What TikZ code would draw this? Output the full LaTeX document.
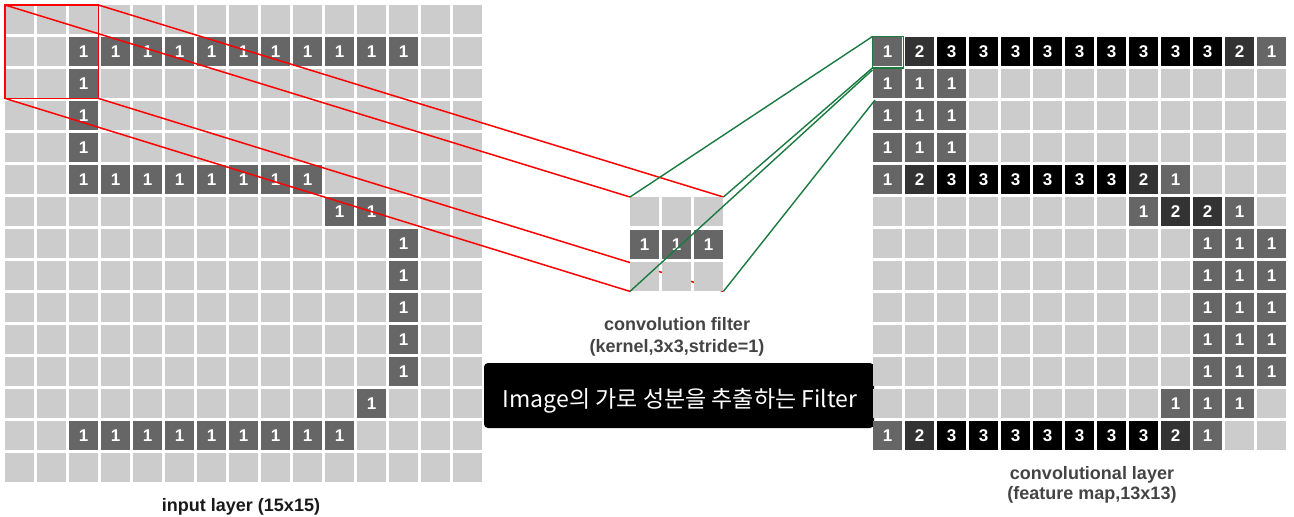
\documentclass[tikz,border=0pt]{standalone}
\usepackage{fontspec}
\setmainfont{Liberation Sans}
\newfontfamily\krfont{Noto Sans CJK KR}
\usetikzlibrary{calc}
\definecolor{v0}{HTML}{CCCCCC}
\definecolor{v1}{HTML}{666666}
\definecolor{v2}{HTML}{333333}
\definecolor{v3}{HTML}{000000}
\definecolor{redl}{HTML}{FF0000}
\definecolor{greenl}{HTML}{1A7A40}
\definecolor{captiongray}{HTML}{444444}
\pgfdeclarelayer{front}
\pgfdeclarelayer{top}
\pgfsetlayers{main,front,top}
\tikzset{
  cell/.style={draw=none, minimum size=29pt, inner sep=0pt, anchor=north west,
    text=white, font=\bfseries\fontsize{17}{17}\selectfont},
  redline/.style={draw=redl, line width=1.5pt},
  greenline/.style={draw=greenl, line width=1.4pt},
  caption/.style={font=\bfseries\fontsize{18}{22}\selectfont, align=center, inner sep=0pt},
}
\begin{document}
\begin{tikzpicture}[x=1pt,y=-1pt]
\useasboundingbox (0,0) rectangle (1294,517);
\fill[white] (0,0) rectangle (1294,517);

% ---------- input layer 15x15 ----------
\foreach \row [count=\j from 0] in {
  {0,0,0,0,0,0,0,0,0,0,0,0,0,0,0},
  {0,0,1,1,1,1,1,1,1,1,1,1,1,0,0},
  {0,0,1,0,0,0,0,0,0,0,0,0,0,0,0},
  {0,0,1,0,0,0,0,0,0,0,0,0,0,0,0},
  {0,0,1,0,0,0,0,0,0,0,0,0,0,0,0},
  {0,0,1,1,1,1,1,1,1,1,0,0,0,0,0},
  {0,0,0,0,0,0,0,0,0,0,1,1,0,0,0},
  {0,0,0,0,0,0,0,0,0,0,0,0,1,0,0},
  {0,0,0,0,0,0,0,0,0,0,0,0,1,0,0},
  {0,0,0,0,0,0,0,0,0,0,0,0,1,0,0},
  {0,0,0,0,0,0,0,0,0,0,0,0,1,0,0},
  {0,0,0,0,0,0,0,0,0,0,0,0,1,0,0},
  {0,0,0,0,0,0,0,0,0,0,0,1,0,0,0},
  {0,0,1,1,1,1,1,1,1,1,1,0,0,0,0},
  {0,0,0,0,0,0,0,0,0,0,0,0,0,0,0}}{
  \foreach \v [count=\i from 0] in \row {
    \node[cell, fill=v\v] (in-\i-\j) at (5+32*\i, 5+32*\j) {\ifnum\v>0 \v\fi};
  }
}

% ---------- filter 3x3 ----------
\begin{pgfonlayer}{front}
\foreach \row [count=\j from 0] in {{0,0,0},{1,1,1},{0,0,0}}{
  \foreach \v [count=\i from 0] in \row {
    \node[cell, fill=v\v] (flt-\i-\j) at (630+32*\i, 197+32.5*\j) {\ifnum\v>0 \v\fi};
  }
}
\end{pgfonlayer}

% ---------- red receptive field ----------
\draw[redline] (in-0-0.north west) rectangle (in-2-2.south east);
\draw[redline] (in-0-0.north west) -- (flt-0-0.north west);
\draw[redline] (in-2-0.north east) -- (flt-2-0.north east);
\draw[redline] (in-2-2.south east) -- (flt-2-2.south east);
\draw[redline] (in-0-2.south west) -- (flt-0-2.south west);

% ---------- black note box ----------
\node[fill=black, rounded corners=4pt, minimum width=390pt, minimum height=65pt,
      inner sep=0pt] (note) at (679,395.5) {};
\node[text=white, font=\krfont\fontsize{23}{23}\selectfont, inner sep=0pt]
      (notetext) at (680,401) {Image의 가로 성분을 추출하는 Filter};

% ---------- feature map 13x13 ----------
\foreach \row [count=\j from 0] in {
  {1,2,3,3,3,3,3,3,3,3,3,2,1},
  {1,1,1,0,0,0,0,0,0,0,0,0,0},
  {1,1,1,0,0,0,0,0,0,0,0,0,0},
  {1,1,1,0,0,0,0,0,0,0,0,0,0},
  {1,2,3,3,3,3,3,3,2,1,0,0,0},
  {0,0,0,0,0,0,0,0,1,2,2,1,0},
  {0,0,0,0,0,0,0,0,0,0,1,1,1},
  {0,0,0,0,0,0,0,0,0,0,1,1,1},
  {0,0,0,0,0,0,0,0,0,0,1,1,1},
  {0,0,0,0,0,0,0,0,0,0,1,1,1},
  {0,0,0,0,0,0,0,0,0,0,1,1,1},
  {0,0,0,0,0,0,0,0,0,1,1,1,0},
  {1,2,3,3,3,3,3,3,3,2,1,0,0}}{
  \foreach \v [count=\i from 0] in \row {
    \node[cell, fill=v\v] (fm-\i-\j) at (873+32*\i, 37+32*\j) {\ifnum\v>0 \v\fi};
  }
}

% ---------- green projection ----------
\begin{pgfonlayer}{top}
\coordinate (gend) at (875,100);
\draw[greenline] ($(fm-0-0.north west)+(-0.5,-0.5)$) rectangle ($(fm-0-0.south east)+(1,1.5)$);
\draw[greenline] (flt-0-0.north west) -- ($(fm-0-0.north west)+(-0.5,-0.5)$);
\draw[greenline] (flt-2-0.north east) -- ($(fm-0-0.south west)+(-0.5,1.5)$);
\draw[greenline] (flt-0-2.south west) -- ($(fm-0-0.south west)+(-0.5,3.5)$);
\draw[greenline] (flt-2-2.south east) -- (gend);
\end{pgfonlayer}

% ---------- captions ----------
\node[caption, text=black!90] (inlabel) at (241,507) {input layer (15x15)};
\node[caption, text=captiongray] (fltlabel) at (677,337) {convolution filter\\(kernel,3x3,stride=1)};
\node[caption, text=captiongray, font=\bfseries\fontsize{18}{20}\selectfont] (fmlabel) at (1092,485) {convolutional layer\\(feature map,13x13)};
\end{tikzpicture}
\end{document}
